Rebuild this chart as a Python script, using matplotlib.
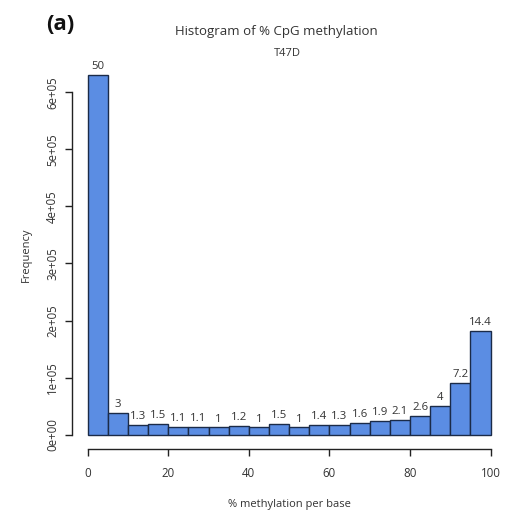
import matplotlib
matplotlib.use("Agg")
import matplotlib.pyplot as plt
import numpy as np

bin_edges = list(range(0, 105, 5))
counts = [630000, 37800, 16400, 18900, 13900, 13900, 12600, 15100, 12600, 18900,
          12600, 17600, 16400, 20200, 23900, 26500, 32800, 50400, 90700, 181400]
pct_labels = ["50", "3", "1.3", "1.5", "1.1", "1.1", "1", "1.2", "1", "1.5",
              "1", "1.4", "1.3", "1.6", "1.9", "2.1", "2.6", "4", "7.2", "14.4"]
xticks = [0, 20, 40, 60, 80, 100]
yticks = [0, 100000, 200000, 300000, 400000, 500000, 600000]
ytick_labels = ["0e+00", "1e+05", "2e+05", "3e+05", "4e+05", "5e+05", "6e+05"]

plt.rcParams['font.family'] = ['Open Sans', 'DejaVu Sans']
txt = '#333333'

fig = plt.figure(figsize=(5.13, 5.15), dpi=100)
W, H = 513, 515
left, right, top, bottom = 71.5, 506.7, 60.8, 449.0
ax = fig.add_axes([left / W, 1 - bottom / H, (right - left) / W, (bottom - top) / H])

edges = np.array(bin_edges)
ax.bar(edges[:-1], counts, width=np.diff(edges), align='edge',
       color='#5b8de3', edgecolor='#1b2b48', linewidth=1.0)
for x0, x1, c, lab in zip(edges[:-1], edges[1:], counts, pct_labels):
    ax.annotate(lab, ((x0 + x1) / 2, c), xytext=(0, 2), textcoords='offset points',
                ha='center', va='bottom', fontsize=8.2, color=txt)

ax.set_xlim(-4, 104)
ax.set_ylim(-0.04 * max(counts), 1.04 * max(counts))
for s in ['top', 'right']:
    ax.spines[s].set_visible(False)
ax.spines['left'].set_bounds(0, 600000)
ax.spines['bottom'].set_bounds(0, 100)
for s in ['left', 'bottom']:
    ax.spines[s].set_linewidth(1.0)
    ax.spines[s].set_color('#222222')
ax.set_xticks(xticks)
ax.set_xticklabels([str(t) for t in xticks])
ax.set_yticks(yticks)
ax.set_yticklabels(ytick_labels, rotation=90, va='center')
ax.tick_params(axis='both', direction='out', length=5, width=1.0, colors='#222222',
               labelsize=8.3, labelcolor=txt)
ax.tick_params(axis='x', pad=8)
ax.tick_params(axis='y', pad=4)

ax.set_xlabel('% methylation per base', fontsize=8.0, color=txt, labelpad=14)
ax.set_ylabel('Frequency', fontsize=8.0, color=txt, labelpad=10)

fig.text(276 / W, 1 - 31 / H, 'Histogram of % CpG methylation', ha='center', va='center',
         fontsize=9.5, color=txt)
fig.text(287 / W, 1 - 54 / H, 'T47D', ha='center', va='center', fontsize=8.0, color=txt)
fig.text(46 / W, 1 - 24 / H, '(a)', ha='left', va='center', fontsize=16, fontweight='bold',
         color='#111111')

fig.savefig('out.png', dpi=100)
